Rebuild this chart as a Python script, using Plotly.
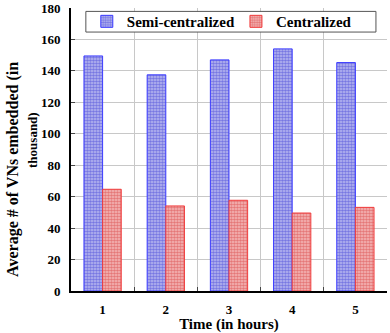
import plotly.graph_objects as go

hours = ["1", "2", "3", "4", "5"]
semi_centralized = [149.5, 137.5, 147, 154, 145.3]
centralized = [64.7, 54.1, 57.7, 49.6, 53.2]
y_ticks = [0, 20, 40, 60, 80, 100, 120, 140, 160, 180]

font_family = "Liberation Serif"

fig = go.Figure()
fig.add_trace(go.Bar(
    x=hours, y=semi_centralized, name="Semi-centralized", legend="legend",
    marker=dict(color="#6a6ae0", line=dict(color="#3c3cff", width=1),
                pattern=dict(shape=".", fgcolor="#3232d4", bgcolor="#bcbcf0", size=3, solidity=0.6)),
))
fig.add_trace(go.Bar(
    x=hours, y=centralized, name="Centralized", legend="legend2",
    marker=dict(color="#e06a6a", line=dict(color="#f03c3c", width=1),
                pattern=dict(shape=".", fgcolor="#d63232", bgcolor="#f4bcbc", size=3, solidity=0.6)),
))

leg_font = dict(size=15, family=font_family, weight="bold", color="black")
title_font = dict(size=16, family=font_family, weight="bold", color="black")
fig.update_layout(
    width=390, height=333,
    margin=dict(l=71, r=3, t=8, b=42, autoexpand=False),
    paper_bgcolor="white", plot_bgcolor="white",
    barmode="group", bargap=0.41, bargroupgap=0,
    font=dict(family=font_family, size=12, color="black"),
    showlegend=True,
    legend=dict(x=0.05, y=0.952, xanchor="left", yanchor="middle",
                bgcolor="rgba(0,0,0,0)", borderwidth=0, font=leg_font,
                itemwidth=30, tracegroupgap=0),
    legend2=dict(x=0.522, y=0.952, xanchor="left", yanchor="middle",
                 bgcolor="rgba(0,0,0,0)", borderwidth=0, font=leg_font,
                 itemwidth=30, tracegroupgap=0),
    shapes=[dict(type="rect", xref="paper", yref="paper",
                 x0=0.047, x1=0.965, y0=0.915, y1=0.988,
                 line=dict(color="#555555", width=1), fillcolor="white", layer="above")],
    annotations=[
        dict(text="Average # of VNs embedded (in", xref="paper", yref="paper",
             x=-0.1835, y=0.428, xanchor="center", yanchor="middle", textangle=-90,
             showarrow=False, font=title_font),
        dict(text="thousand)", xref="paper", yref="paper",
             x=-0.120, y=0.534, xanchor="center", yanchor="middle", textangle=-90,
             showarrow=False, font=dict(size=13, family=font_family, weight="bold", color="black")),
    ],
)
fig.update_xaxes(
    type="category", tickson="boundaries", ticks="inside", ticklen=4,
    showgrid=True, gridcolor="#c8c8c8", gridwidth=1,
    showline=True, linecolor="black", linewidth=2, automargin=False,
    ticklabelstandoff=5,
    tickfont=dict(size=13, family=font_family, weight="bold"),
    title=dict(text="Time (in hours)", font=dict(size=15, family=font_family, weight="bold"), standoff=0),
)
fig.update_yaxes(
    range=[0, 180], tickvals=y_ticks, ticks="inside", ticklen=4,
    showgrid=True, gridcolor="#c8c8c8", gridwidth=1,
    showline=True, linecolor="black", linewidth=2, automargin=False,
    ticklabelstandoff=6,
    tickfont=dict(size=13, family=font_family, weight="bold"),
)
fig.write_html("out.html", config={"displayModeBar": False},
               post_script="document.body.style.margin='0';")
